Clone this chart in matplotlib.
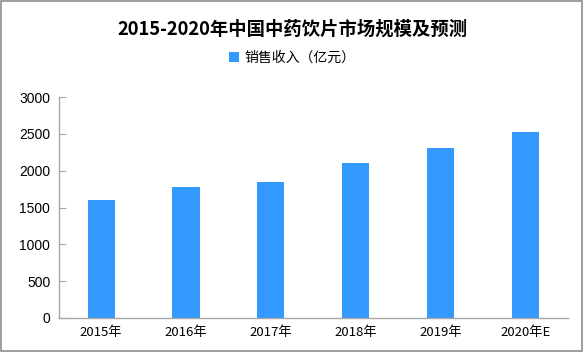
import matplotlib
matplotlib.use("Agg")
import matplotlib.pyplot as plt
from matplotlib.patches import Rectangle

plt.rcParams['font.family'] = ['Noto Sans CJK SC', 'DejaVu Sans']

categories = ["2015年", "2016年", "2017年", "2018年", "2019年", "2020年E"]
sales = [1600, 1780, 1845, 2100, 2310, 2525]
yticks = [0, 500, 1000, 1500, 2000, 2500, 3000]
title = "2015-2020年中国中药饮片市场规模及预测"
series_name = "销售收入（亿元）"

bar_color = "#3399FF"
axis_color = "#A6A6A6"

fig = plt.figure(figsize=(5.85, 3.52), dpi=100)
ax = fig.add_axes([0.1003, 0.0966, 0.8707, 0.6278])

x = list(range(len(categories)))
ax.bar(x, sales, width=0.32, color=bar_color, label=series_name)
ax.set_xlim(-0.5, len(categories) - 0.5)
ax.set_ylim(0, 3000)
ax.set_yticks(yticks)
ax.set_yticklabels([str(v) for v in yticks], fontsize=10, family=['Liberation Sans', 'DejaVu Sans'])
ax.set_xticks(x)
ax.set_xticklabels(categories, fontsize=9.5)

for s in ['top', 'right']:
    ax.spines[s].set_visible(False)
for s in ['left', 'bottom']:
    ax.spines[s].set_color(axis_color)
    ax.spines[s].set_linewidth(1.0)
ax.tick_params(axis='y', direction='in', length=5, color=axis_color, pad=6)
ax.tick_params(axis='x', length=0, pad=6)

fig.text(0.5, 0.918, title, ha='center', va='center', fontsize=13.2, fontweight='bold')
fig.legend(loc='center', bbox_to_anchor=(0.5, 0.835), frameon=False, fontsize=10,
           handlelength=0.7, handleheight=0.7, handletextpad=0.4)

fig.patches.append(Rectangle((0.001, 0.002), 0.994, 0.996, transform=fig.transFigure,
                             fill=False, edgecolor="#8C8C8C", linewidth=1.2))

fig.savefig("out.png", dpi=100)
